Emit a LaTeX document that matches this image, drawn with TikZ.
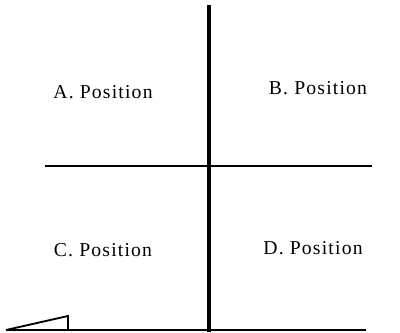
\documentclass[tikz,border=0pt]{standalone}
\usepackage{fontspec}
\setmainfont{Liberation Serif}
\newfontfamily\posfont[LetterSpace=6]{Liberation Serif}
\usepackage{tikz}
\usetikzlibrary{positioning, calc}

\begin{document}
\begin{tikzpicture}[
    lbl/.style={font=\fontsize{14}{16}\selectfont\posfont, inner sep=1pt},
    ln/.style={line width=1.8pt, line cap=butt},
]
    \useasboundingbox (0,0) rectangle (10,8.325);

    \coordinate (top) at (5.225,8.2);
    \coordinate (bot) at (5.225,0.025);
    \coordinate (lft) at (1.125,4.175);
    \coordinate (rgt) at (9.3,4.175);
    \coordinate (b1) at (0.15,0.075);
    \coordinate (b2) at (9.15,0.075);
    \coordinate (tp) at (1.7,0.425);
    \coordinate (tb) at (1.7,0.075);

    \draw[ln, line width=2.2pt] (top) -- (bot);
    \draw[ln] (lft) -- (rgt);
    \draw[ln, line width=1.6pt] (b1) -- (b2);
    \draw[line width=1.3pt, line join=miter] (b1) -- (tp) -- (tb);

    \node[lbl] (a) at (2.575,6.025) {A. Position};
    \node[lbl] (b) at (7.95,6.125) {B. Position};
    \node[lbl] (c) at (2.575,2.075) {C. Position};
    \node[lbl] (d) at (7.825,2.125) {D. Position};
\end{tikzpicture}
\end{document}
